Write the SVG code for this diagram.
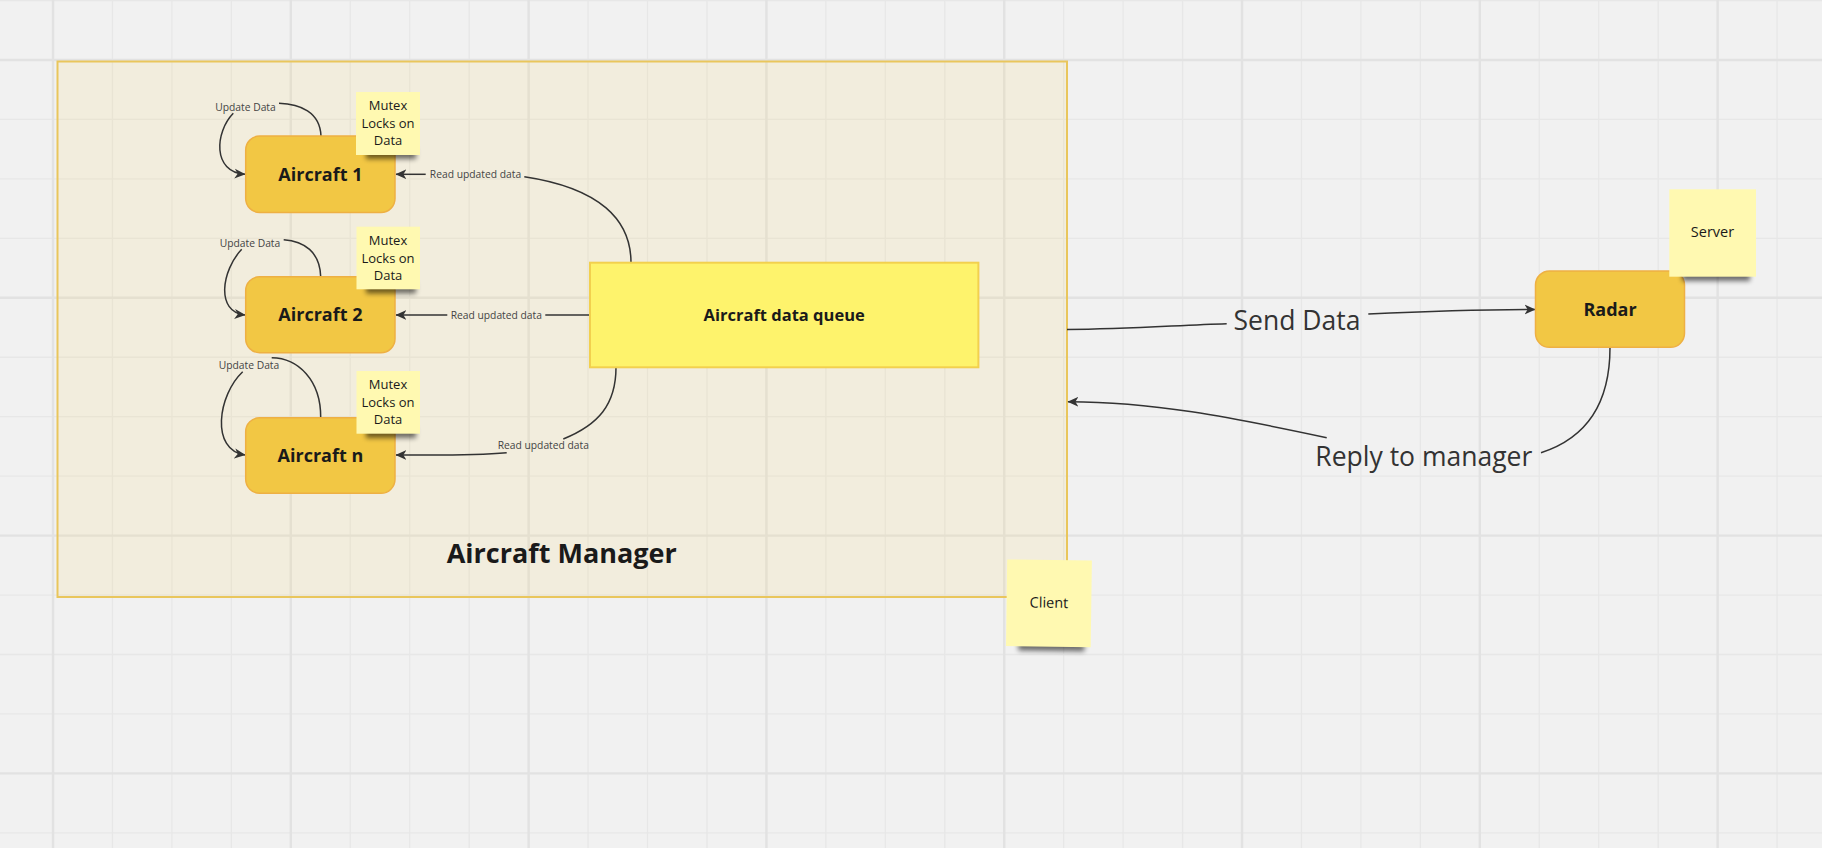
<svg xmlns="http://www.w3.org/2000/svg" width="1822" height="848" viewBox="0 0 1822 848">
<style>
.bg{fill:#f1f1f1}
.gmin{fill:none;stroke:#e7e7e7;stroke-width:1.3}
.gmaj{fill:none;stroke:#e2e2e2;stroke-width:2.4}
.frame{fill:#f5d364;fill-opacity:0.14;stroke:#e9c65c;stroke-width:2}
.ac{fill:#f2c744;stroke:#eeb043;stroke-width:1.5}
.q{fill:#fef36c;stroke:#f2d04e;stroke-width:2}
.st{fill:#fff9b1}
.shd{fill:#000;opacity:0.55}
.bold{font-family:'Open Sans','Liberation Sans',sans-serif;font-weight:700;fill:#1a1a1a;text-anchor:middle}
.reg{font-family:'Open Sans','Liberation Sans',sans-serif;fill:#1a1a1a;text-anchor:middle}
.conn{fill:none;stroke:#333;stroke-width:1.5}
.lbl{font-family:'Open Sans','Liberation Sans',sans-serif;font-size:10.3px;fill:#444;text-anchor:middle}
.big{font-family:'Open Sans','Liberation Sans',sans-serif;font-size:26.5px;fill:#333;text-anchor:middle}
</style>
<defs>
<marker id="arr" viewBox="0 0 10 10" refX="9.5" refY="5" markerWidth="11" markerHeight="11" markerUnits="userSpaceOnUse" orient="auto">
<path d="M0,0.5 L10,5 L0,9.5 L2.8,5 z" fill="#333"/>
</marker>
<filter id="blur" x="-30%" y="-100%" width="160%" height="300%"><feGaussianBlur stdDeviation="2.8"/></filter>
</defs>

<rect class="bg" x="0" y="0" width="1822" height="848"/>
<g id="grid">
<path class="gmin" d="M112.45 0V848M171.9 0V848M231.35 0V848M350.25 0V848M409.7 0V848M469.15 0V848M588.05 0V848M647.5 0V848M706.95 0V848M825.85 0V848M885.3 0V848M944.75 0V848M1063.65 0V848M1123.1 0V848M1182.55 0V848M1301.45 0V848M1360.9 0V848M1420.35 0V848M1539.25 0V848M1598.7 0V848M1658.15 0V848M1777.05 0V848M0 0.55H1822M0 119.45H1822M0 178.9H1822M0 238.35H1822M0 357.25H1822M0 416.7H1822M0 476.15H1822M0 595.05H1822M0 654.5H1822M0 713.95H1822M0 832.85H1822"/>
<path class="gmaj" d="M53 0V848M290.8 0V848M528.6 0V848M766.4 0V848M1004.2 0V848M1242 0V848M1479.8 0V848M1717.6 0V848M0 60H1822M0 297.8H1822M0 535.6H1822M0 773.4H1822"/>
</g>

<g id="aircraft-manager">
<rect class="frame" x="57.5" y="61.5" width="1009.5" height="535.5"/>
<text class="bold" x="561.7" y="562.7" font-size="27">Aircraft Manager</text>
</g>

<g id="connectors">
<!-- Aircraft 1 update loop -->
<path class="conn" d="M321 136 C320 112 300 104 279 103.3"/>
<path class="conn" d="M233.3 113.3 C215 132 212 172 245 174.3" marker-end="url(#arr)"/>
<text class="lbl" x="245.5" y="110.7">Update Data</text>
<!-- Aircraft 2 update loop -->
<path class="conn" d="M320.7 276.7 C320 252 304 241 283.7 239.7"/>
<path class="conn" d="M241.7 249.3 C222 270 215 312 245 315" marker-end="url(#arr)"/>
<text class="lbl" x="250" y="246.7">Update Data</text>
<!-- Aircraft n update loop -->
<path class="conn" d="M320.7 417.7 C321 380 298 358 271.7 357.7"/>
<path class="conn" d="M242.7 371.7 C218 395 210 450 245 455" marker-end="url(#arr)"/>
<text class="lbl" x="249" y="369">Update Data</text>
<!-- Queue -> Aircraft 1 -->
<path class="conn" d="M631 262.7 C631 220 600 188 524.3 176.7"/>
<path class="conn" d="M425.7 174.3 L396 174.3" marker-end="url(#arr)"/>
<text class="lbl" x="475.5" y="178.3">Read updated data</text>
<!-- Queue -> Aircraft 2 -->
<path class="conn" d="M590 315 L545.3 315"/>
<path class="conn" d="M447.3 315 L396 315" marker-end="url(#arr)"/>
<text class="lbl" x="496.3" y="318.7">Read updated data</text>
<!-- Queue -> Aircraft n -->
<path class="conn" d="M616 367.3 C616 405 598 425 563.3 439"/>
<path class="conn" d="M506.7 452.7 C470 456 430 455 396 455" marker-end="url(#arr)"/>
<text class="lbl" x="543.3" y="449.3">Read updated data</text>
<!-- Send Data -->
<path class="conn" d="M1067 329.5 C1130 329 1180 325 1226.7 323.7"/>
<path class="conn" d="M1368.3 314 C1430 311 1480 309.4 1535 309.4" marker-end="url(#arr)"/>
<text class="big" x="1297" y="330">Send Data</text>
<!-- Reply to manager -->
<path class="conn" d="M1610 347.5 C1610 400 1590 437 1541 452.7"/>
<path class="conn" d="M1326.7 437.7 C1230 417 1150 401.5 1068 401.7" marker-end="url(#arr)"/>
<text class="big" x="1423.8" y="465.7">Reply to manager</text>
</g>

<g id="aircraft-1">
<rect class="ac" x="245.7" y="136" width="149.3" height="76.5" rx="14"/>
<text class="bold" x="320.4" y="181" font-size="18">Aircraft 1</text>
</g>
<g id="aircraft-2">
<rect class="ac" x="245.7" y="276.7" width="149.3" height="76" rx="14"/>
<text class="bold" x="320.4" y="321.4" font-size="18">Aircraft 2</text>
</g>
<g id="aircraft-n">
<rect class="ac" x="245.7" y="417.7" width="149.3" height="75.6" rx="14"/>
<text class="bold" x="320.4" y="462" font-size="18">Aircraft n</text>
</g>

<g id="mutex-1">
<rect class="shd" x="366" y="148" width="50" height="11" filter="url(#blur)"/>
<rect class="st" x="356" y="92" width="64" height="63"/>
<text class="reg" font-size="13" x="388" y="110">Mutex</text>
<text class="reg" font-size="13" x="388" y="127.5">Locks on</text>
<text class="reg" font-size="13" x="388" y="145">Data</text>
</g>
<g id="mutex-2">
<rect class="shd" x="366" y="282.5" width="50" height="11" filter="url(#blur)"/>
<rect class="st" x="356.5" y="226.7" width="63.5" height="62.6"/>
<text class="reg" font-size="13" x="388" y="245">Mutex</text>
<text class="reg" font-size="13" x="388" y="262.5">Locks on</text>
<text class="reg" font-size="13" x="388" y="280">Data</text>
</g>
<g id="mutex-3">
<rect class="shd" x="366" y="427" width="50" height="11" filter="url(#blur)"/>
<rect class="st" x="356.5" y="371" width="63.5" height="62.7"/>
<text class="reg" font-size="13" x="388" y="389">Mutex</text>
<text class="reg" font-size="13" x="388" y="406.5">Locks on</text>
<text class="reg" font-size="13" x="388" y="424">Data</text>
</g>

<g id="aircraft-data-queue">
<rect class="q" x="590" y="262.7" width="388.4" height="104.6"/>
<text class="bold" x="784.2" y="321" font-size="16.5">Aircraft data queue</text>
</g>

<g id="radar">
<rect class="ac" x="1535.5" y="271" width="149" height="76.3" rx="14"/>
<text class="bold" x="1610" y="316" font-size="18">Radar</text>
</g>

<g id="server">
<rect class="shd" x="1682" y="269" width="68" height="12" filter="url(#blur)"/>
<rect class="st" x="1669.3" y="189.3" width="86.7" height="87.4"/>
<text class="reg" font-size="14.5" x="1712.5" y="237">Server</text>
</g>

<g id="client" transform="rotate(0.8 1049 603)">
<rect class="shd" x="1019" y="639" width="66" height="12" filter="url(#blur)"/>
<rect class="st" x="1006.6" y="560" width="84.7" height="86.7"/>
<text class="reg" font-size="14.5" x="1049" y="607.7">Client</text>
</g>
</svg>
